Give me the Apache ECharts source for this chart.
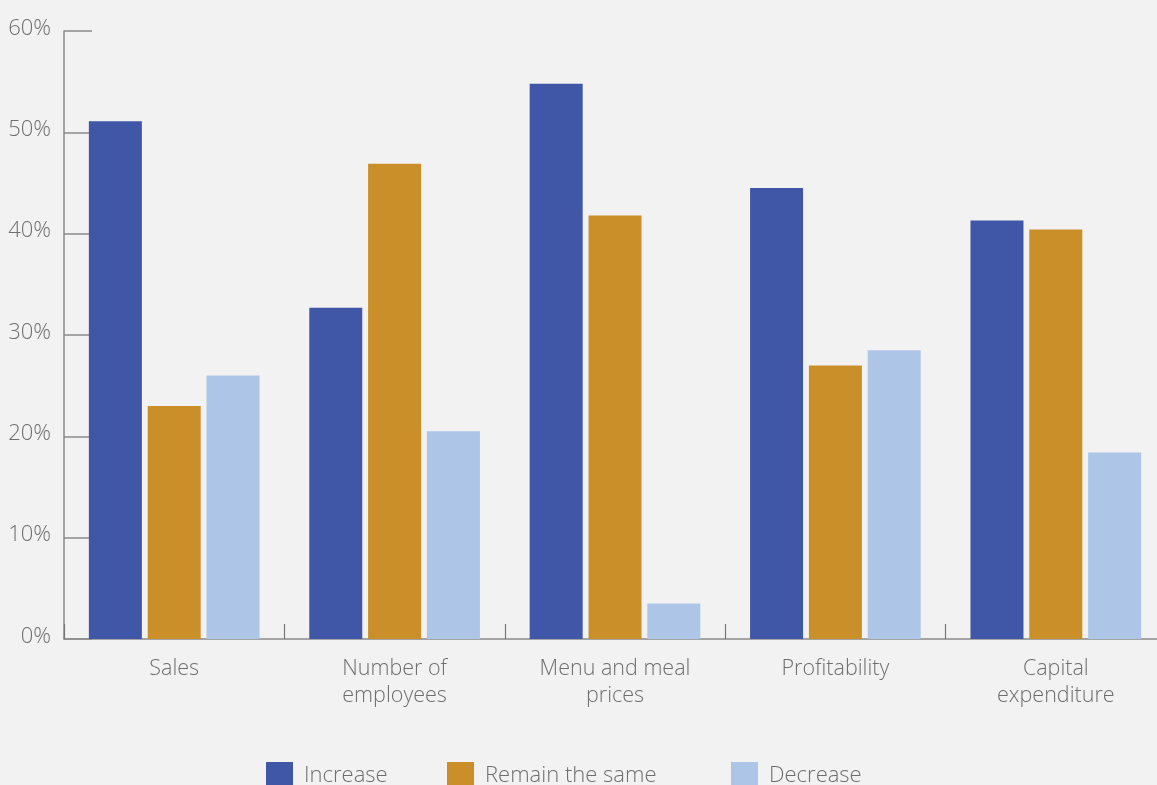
<!DOCTYPE html>
<html>
<head>
<meta charset="utf-8">
<script src="https://cdn.jsdelivr.net/npm/echarts@6/dist/echarts.min.js"></script>
<style>
  html, body { margin: 0; padding: 0; background: #f2f2f2; }
  #chart { width: 1157px; height: 785px; }
</style>
</head>
<body>
<div id="chart"></div>
<script>
var categories = ['Sales', 'Number of\nemployees', 'Menu and meal\nprices', 'Profitability', 'Capital\nexpenditure'];
var seriesNames = ['Increase', 'Remain the same', 'Decrease'];
var increase = [51.1, 32.7, 54.8, 44.5, 41.3];
var remainSame = [23.0, 46.9, 41.8, 27.0, 40.4];
var decrease = [26.0, 20.5, 3.5, 28.5, 18.4];

var myChart = echarts.init(document.getElementById('chart'));

var font = '"Open Sans", "Noto Sans", sans-serif';
var colors = ['#4056a6', '#cb8f2a', '#adc6e7'];
var legendLeft = [266, 447, 731];

// one legend per item so each can sit where it does in the original
var legends = seriesNames.map(function (name, i) {
  return {
    data: [name],
    left: legendLeft[i],
    top: 762,
    itemWidth: 27,
    itemHeight: 27,
    icon: 'rect',
    padding: 0,
    textStyle: { fontSize: 22, fontWeight: 300, color: '#6e6e6e', fontFamily: font, padding: [0, 0, 0, 6] }
  };
});

var option = {
  backgroundColor: '#f2f2f2',
  color: colors,
  textStyle: { fontFamily: font },
  legend: legends,
  grid: {
    left: 64,
    top: 31,
    width: 1102,
    bottom: 146,
    outerBoundsMode: 'none'
  },
  xAxis: {
    type: 'category',
    data: categories,
    axisLine: { lineStyle: { color: '#8a8a8a', width: 1.5 } },
    axisTick: { show: true, inside: true, length: 15, lineStyle: { color: '#777', width: 1.2 } },
    axisLabel: { fontSize: 21.5, fontWeight: 300, color: '#6e6e6e', lineHeight: 27, margin: 16, fontFamily: font }
  },
  yAxis: {
    type: 'value',
    min: 0,
    max: 60,
    interval: 10,
    axisLine: { show: true, lineStyle: { color: '#8a8a8a', width: 1.5 } },
    axisTick: { show: true, inside: true, length: 28, lineStyle: { color: '#8a8a8a', width: 1.5 } },
    splitLine: { show: false },
    axisLabel: {
      formatter: '{t|{value}%}',
      margin: 13,
      rich: {
        t: {
          fontSize: 22,
          fontWeight: 300,
          color: '#6e6e6e',
          fontFamily: font,
          padding: [0, 0, 5, 0]
        }
      }
    }
  },
  series: [
    { name: seriesNames[0], type: 'bar', barWidth: 53, barGap: '11%', data: increase },
    { name: seriesNames[1], type: 'bar', barWidth: 53, barGap: '11%', data: remainSame },
    { name: seriesNames[2], type: 'bar', barWidth: 53, barGap: '11%', data: decrease }
  ]
};
myChart.setOption(option);
</script>
</body>
</html>
